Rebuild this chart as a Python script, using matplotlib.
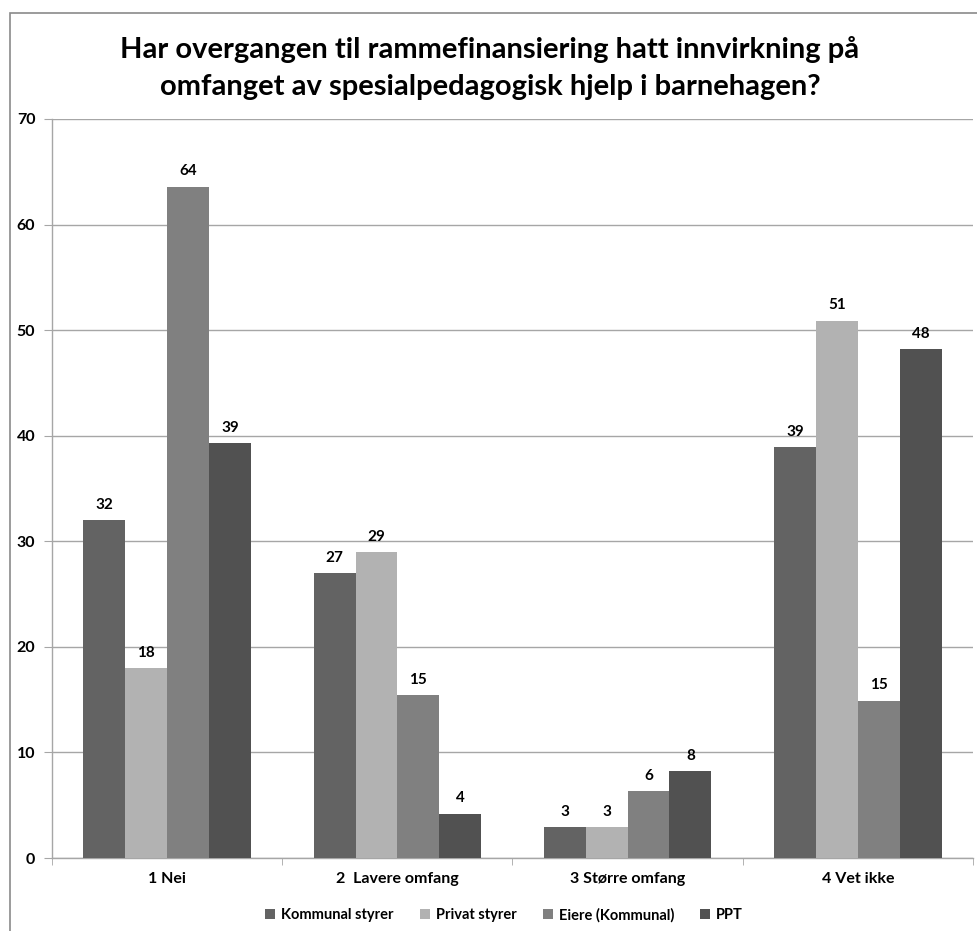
import matplotlib
matplotlib.use("Agg")
import matplotlib.pyplot as plt
from matplotlib.patches import Rectangle
import numpy as np

plt.rcParams['font.family'] = ['Lato', 'DejaVu Sans']

categories = ["1 Nei", "2  Lavere omfang", "3 Større omfang", "4 Vet ikke"]
series_names = ["Kommunal styrer", "Privat styrer", "Eiere (Kommunal)", "PPT"]
kommunal_styrer = [32.0, 27.0, 2.9, 38.9]
privat_styrer = [18.0, 29.0, 2.9, 50.9]
eiere_kommunal = [63.6, 15.4, 6.3, 14.9]
ppt = [39.3, 4.2, 8.2, 48.2]
series_values = [kommunal_styrer, privat_styrer, eiere_kommunal, ppt]
colors = ["#636363", "#b2b2b2", "#808080", "#515151"]
title = "Har overgangen til rammefinansiering hatt innvirkning på\nomfanget av spesialpedagogisk hjelp i barnehagen?"

W, H = 978, 931
fig = plt.figure(figsize=(W / 100, H / 100), dpi=100)
ax = fig.add_axes([52 / W, 1 - 858 / H, (973 - 52) / W, (858 - 119) / H])

x = np.arange(len(categories))
bw = 1 / 5.5
for i, (name, vals, c) in enumerate(zip(series_names, series_values, colors)):
    bars = ax.bar(x + (i - 1.5) * bw, vals, bw, color=c, label=name, zorder=3)
    for b, v in zip(bars, vals):
        ax.annotate(f"{v:.0f}", (b.get_x() + b.get_width() / 2, v),
                    xytext=(0, 6), textcoords="offset points",
                    ha="center", va="bottom", fontsize=11, fontweight="bold")

ax.set_xlim(-0.5, len(categories) - 0.5)
ax.set_ylim(0, 70)
ax.set_yticks(np.arange(0, 71, 10))
ax.yaxis.grid(True, color="#a6a6a6", linewidth=1.0, zorder=0)
ax.set_xticks(x)
ax.set_xticklabels(categories, fontsize=11.5, fontweight="bold")
ax.set_xticks(np.arange(-0.5, len(categories), 1), minor=True)
ax.tick_params(axis="x", which="major", length=0, pad=10)
ax.tick_params(axis="x", which="minor", length=5, color="#a6a6a6", direction="out")
ax.tick_params(axis="y", length=6, color="#a6a6a6", pad=6, labelsize=11.5)
for lab in ax.get_yticklabels():
    lab.set_fontweight("bold")
for s in ["top", "right"]:
    ax.spines[s].set_visible(False)
for s in ["left", "bottom"]:
    ax.spines[s].set_color("#a6a6a6")
    ax.spines[s].set_linewidth(1.0)

fig.text(490 / W, 1 - 68 / H, title, ha="center", va="center",
         fontsize=21, fontweight="bold", linespacing=1.5)

leg = fig.legend(loc="center", bbox_to_anchor=(504 / W, 1 - 915 / H), ncol=4,
                 frameon=False, prop={"weight": "bold", "size": 10.5},
                 handlelength=0.7, handleheight=0.7, handletextpad=0.4,
                 columnspacing=1.8)

fig.patches.append(Rectangle((10 / W, -0.05), 1.1, 1 - 13 / H + 0.05,
                             transform=fig.transFigure, fill=False,
                             edgecolor="#8a8a8a", linewidth=1.2, zorder=0))

fig.savefig("out.png", dpi=100)
